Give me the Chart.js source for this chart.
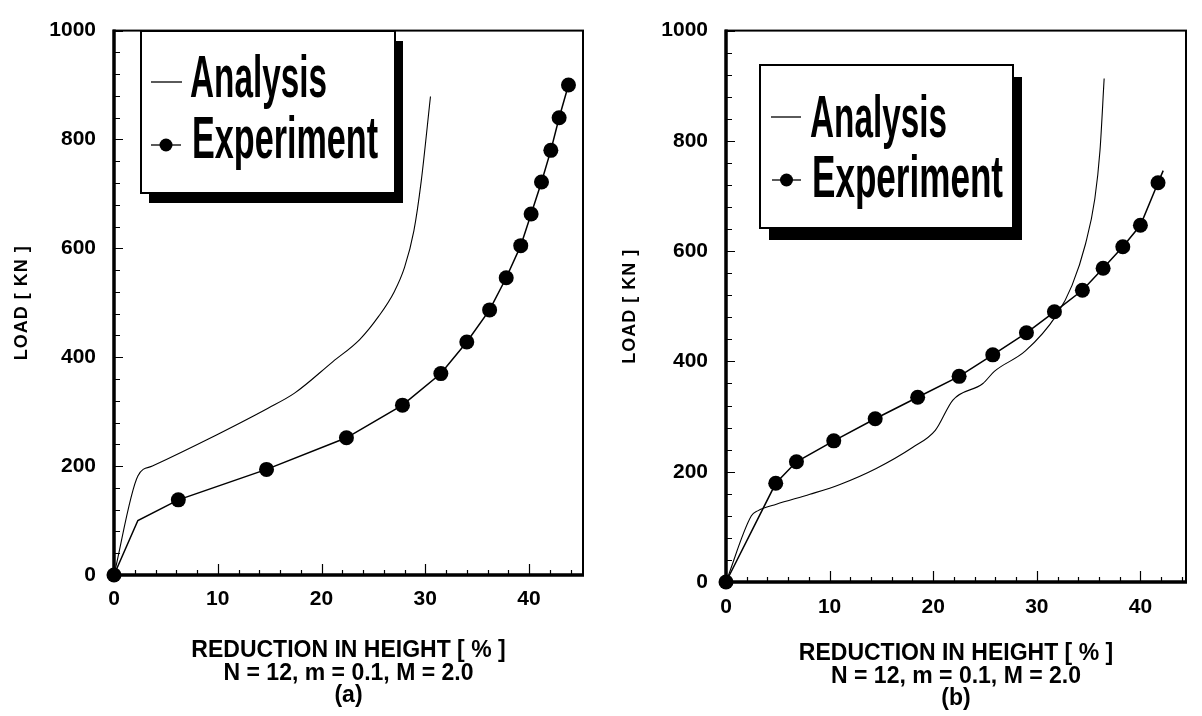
<!DOCTYPE html>
<html>
<head>
<meta charset="utf-8">
<script src="https://cdn.jsdelivr.net/npm/chart.js@4.4.0/dist/chart.umd.min.js"></script>
<style>
html,body{margin:0;padding:0;background:#fff;}
#wrapA{position:absolute;left:0;top:0;width:600px;height:716px;}
#wrapB{position:absolute;left:601px;top:0;width:601px;height:716px;}
</style>
</head>
<body>
<div id="wrapA"><canvas id="chartA" width="600" height="716"></canvas></div>
<div id="wrapB"><canvas id="chartB" width="601" height="716"></canvas></div>
<script>
// ---- data ----
var xTicks = [0, 10, 20, 30, 40];
var yTicks = [0, 200, 400, 600, 800, 1000];

// (a)
var aAnalysisX = [0, 2.3, 3.7, 8.9, 14.8, 17.4, 21.1, 23.7, 25.5, 27.0, 28.0, 28.9, 29.6, 30.5];
var aAnalysisY = [0, 182, 200, 248, 306, 334, 392, 433, 475, 520, 565, 632, 722, 879];
var aExpX = [0, 2.3, 6.2, 14.7, 22.4, 27.8, 31.5, 34.0, 36.2, 37.8, 39.2, 40.2, 41.2, 42.1, 42.9, 43.8];
var aExpY = [0, 100, 138, 194, 252, 312, 370, 428, 487, 546, 605, 663, 722, 780, 840, 900];
var aExpMark = [1, 0, 1, 1, 1, 1, 1, 1, 1, 1, 1, 1, 1, 1, 1, 1];

// (b)
var bAnalysisX = [0, 2.45, 3.06, 4.86, 8.1, 11.0, 14.5, 18.0, 20.2, 21.9, 24.8, 25.9, 28.9, 31.9, 33.4, 34.7, 35.6, 36.1, 36.5];
var bAnalysisY = [0, 120, 129, 141, 159, 177, 206, 244, 275, 330, 360, 382, 419, 484, 538, 613, 695, 783, 913];
var bExpX = [0, 4.8, 6.8, 10.4, 14.4, 18.5, 22.5, 25.75, 29.0, 31.7, 34.4, 36.4, 38.3, 40.0, 41.7, 42.2];
var bExpY = [0, 179, 218, 256, 296, 335, 373, 412, 452, 490, 529, 569, 608, 647, 724, 746];
var bExpMark = [1, 1, 1, 1, 1, 1, 1, 1, 1, 1, 1, 1, 1, 1, 1, 0];

var seriesNames = ['Analysis', 'Experiment'];
var xTitle = ['REDUCTION IN HEIGHT [ % ]', 'N = 12, m = 0.1, M = 2.0'];
var yTitle = 'LOAD [ KN ]';

function pts(xs, ys){
	var out = [];
	for(var i = 0; i < xs.length; i++){ out.push({x: xs[i], y: ys[i]}); }
	return out;
}

Chart.defaults.font.family = '"Liberation Sans", Arial, sans-serif';
Chart.defaults.color = '#000';

// frame + inward ticks + y title
var framePlugin = {
	id: 'frame',
	beforeDatasetsDraw: function(chart, args, opts){
		var c = chart.ctx, a = chart.chartArea, xs = chart.scales.x, ys = chart.scales.y;
		c.save();
		c.strokeStyle = '#000';
		c.lineWidth = 1.2;
		c.beginPath();
		for(var v = 0; v <= xs.max; v += 2){
			var px = Math.round(xs.getPixelForValue(v)) + 0.5;
			var len = (v % 10 === 0) ? 11 : 5;
			c.moveTo(px, a.bottom); c.lineTo(px, a.bottom - len);
		}
		for(var w = 0; w <= ys.max; w += 40){
			var py = Math.round(ys.getPixelForValue(w)) + 0.5;
			var len2 = (w % 200 === 0) ? 9 : 6;
			c.moveTo(a.left, py); c.lineTo(a.left + len2, py);
		}
		c.stroke();
		c.lineWidth = 2;
		c.strokeRect(a.left, a.top, a.right - a.left, a.bottom - a.top);
		c.lineWidth = 3.5;
		c.beginPath();
		c.moveTo(a.left, a.top - 1); c.lineTo(a.left, a.bottom); c.lineTo(a.right + 1, a.bottom);
		c.stroke();

		// rotated y title
		c.translate(opts.ytx, (a.top + a.bottom) / 2);
		c.rotate(-Math.PI / 2);
		c.font = 'bold 18px "Liberation Sans", Arial, sans-serif';
		c.letterSpacing = '1px';
		c.textAlign = 'center';
		c.textBaseline = 'middle';
		c.fillStyle = '#000';
		c.fillText(yTitle, 0, 0);
		c.restore();
	}
};

// boxed legend with drop shadow
var boxLegend = {
	id: 'boxLegend',
	afterDatasetsDraw: function(chart, args, o){
		var c = chart.ctx, b = o.box;
		c.save();
		c.fillStyle = '#000';
		c.fillRect(b[0] + o.shadow[0], b[1] + o.shadow[1], b[2], b[3]);
		c.fillStyle = '#fff';
		c.fillRect(b[0], b[1], b[2], b[3]);
		c.lineWidth = 2;
		c.strokeStyle = '#000';
		c.strokeRect(b[0], b[1], b[2], b[3]);
		c.font = 'bold 60px "Liberation Sans Narrow", "Liberation Sans", Arial, sans-serif';
		c.textBaseline = 'alphabetic';
		for(var i = 0; i < o.rows.length; i++){
			var r = o.rows[i];
			var label = chart.data.datasets[i].label;
			c.lineWidth = 1.3;
			c.beginPath();
			c.moveTo(r.line[0], r.line[2]); c.lineTo(r.line[1], r.line[2]);
			c.stroke();
			if(i === 1){
				c.fillStyle = '#000';
				c.beginPath();
				c.arc((r.line[0] + r.line[1]) / 2, r.line[2], 6.5, 0, Math.PI * 2);
				c.fill();
			}
			var mw = c.measureText(label).width;
			c.save();
			c.translate(r.text[0], r.text[1]);
			c.scale(r.text[2] / mw, 1);
			c.fillStyle = '#000';
			c.fillText(label, 0, 0);
			c.restore();
		}
		c.restore();
	}
};

function makeChart(id, cfg){
	var ctx = document.getElementById(id).getContext('2d');
	return new Chart(ctx, {
		type: 'scatter',
		data: {
			datasets: [{
				label: seriesNames[0],
				data: pts(cfg.ax, cfg.ay),
				showLine: true,
				borderColor: '#000',
				borderWidth: 1.1,
				pointRadius: 0,
				cubicInterpolationMode: 'monotone'
			}, {
				label: seriesNames[1],
				data: pts(cfg.ex, cfg.ey),
				showLine: true,
				borderColor: '#000',
				borderWidth: 1.5,
				backgroundColor: '#000',
				pointBackgroundColor: '#000',
				pointBorderWidth: 0,
				pointRadius: function(c){ return cfg.mark[c.dataIndex] ? 7.5 : 0; },
				clip: false
			}]
		},
		options: {
			responsive: false,
			animation: false,
			events: [],
			layout: { padding: cfg.pad },
			plugins: {
				legend: { display: false },
				tooltip: { enabled: false },
				boxLegend: cfg.legend,
				frame: { ytx: cfg.ytx }
			},
			scales: {
				x: {
					type: 'linear',
					min: 0,
					max: cfg.xmax,
					grid: { display: false, drawTicks: false },
					border: { display: false },
					afterBuildTicks: function(s){ s.ticks = xTicks.map(function(v){ return {value: v}; }); },
					afterFit: function(s){ s.height = cfg.xh; },
					ticks: { padding: cfg.xtpad, font: { size: 21, weight: 'bold' }, color: '#000',
						callback: function(v){ return String(v); } },
					title: {
						display: true,
						text: xTitle.concat([cfg.tag]),
						font: { size: 23, weight: 'bold', lineHeight: 0.98 },
						padding: { top: 0, bottom: cfg.titlePad },
						color: '#000'
					}
				},
				y: {
					type: 'linear',
					min: 0,
					max: 1000,
					grid: { display: false, drawTicks: false },
					border: { display: false },
					afterBuildTicks: function(s){ s.ticks = yTicks.map(function(v){ return {value: v}; }); },
					afterFit: function(s){ s.width = cfg.yw; },
					ticks: { padding: 18, font: { size: 21, weight: 'bold' }, color: '#000',
						callback: function(v){ return String(v); } },
					title: { display: false }
				}
			}
		},
		plugins: [framePlugin, boxLegend]
	});
}

var chartA = makeChart('chartA', {
	ax: aAnalysisX, ay: aAnalysisY, ex: aExpX, ey: aExpY, mark: aExpMark,
	xmax: 45.2, tag: '(a)',
	pad: { top: 17, right: 17, left: 0, bottom: 0 },
	yw: 114, xh: 141, xtpad: 12, titlePad: 9, ytx: 22,
	legend: {
		box: [141, 31, 254, 162], shadow: [8, 10],
		rows: [
			{ line: [151, 182, 82], text: [190, 96.5, 137] },
			{ line: [151, 181, 145], text: [192, 158, 186] }
		]
	}
});

var chartB = makeChart('chartB', {
	ax: bAnalysisX, ay: bAnalysisY, ex: bExpX, ey: bExpY, mark: bExpMark,
	xmax: 44.4, tag: '(b)',
	pad: { top: 20, right: 16, left: 0, bottom: 0 },
	yw: 125, xh: 134, xtpad: 13, titlePad: 6, ytx: 29,
	legend: {
		box: [159, 65, 253, 163], shadow: [9, 12],
		rows: [
			{ line: [170, 200, 117], text: [209, 136.7, 137] },
			{ line: [171, 200, 180], text: [211, 196.7, 191] }
		]
	}
});
</script>
</body>
</html>
